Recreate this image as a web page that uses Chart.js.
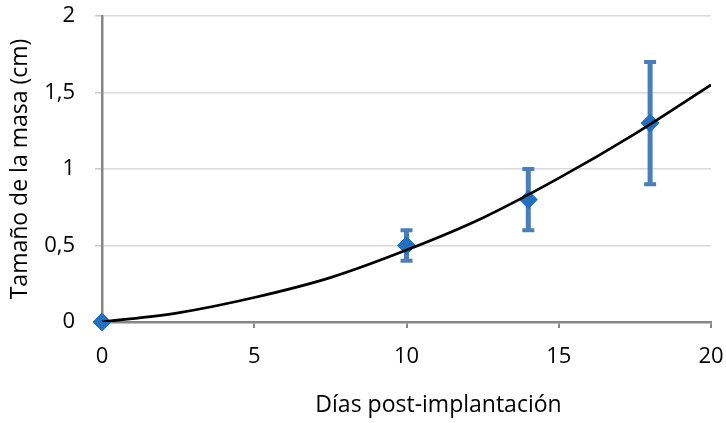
<!DOCTYPE html>
<html>
<head>
<meta charset="utf-8">
<script src="https://cdn.jsdelivr.net/npm/chart.js@4"></script>
<style>
  html, body { margin: 0; padding: 0; background: #fff; }
  #grafico { display: block; }
</style>
</head>
<body>
<canvas id="grafico" width="726" height="423"></canvas>
<script>
// datos medidos
const dias = [0, 10, 14, 18];
const tamano = [0, 0.5, 0.8, 1.3];
const errores = [0, 0.1, 0.2, 0.4];

// línea de tendencia
const tendX = [0, 2.5, 5, 7.5, 10, 12.5, 15, 17.5, 20];
const tendY = [0, 0.06, 0.16, 0.29, 0.47, 0.68, 0.94, 1.23, 1.55];

const ticksX = [0, 5, 10, 15, 20];
const ticksY = [0, 0.5, 1, 1.5, 2];

const fuente = "'Open Sans', 'Noto Sans', sans-serif";
const azul = '#2370c0';
const azulBarra = '#4a7ebb';

// barras de error debajo de los puntos
const barrasError = {
  id: 'barrasError',
  beforeDatasetsDraw(chart) {
    const ctx = chart.ctx;
    const sx = chart.scales.x, sy = chart.scales.y;
    ctx.save();
    ctx.strokeStyle = azulBarra;
    dias.forEach((d, i) => {
      if (!errores[i]) return;
      const x = sx.getPixelForValue(d);
      const y1 = sy.getPixelForValue(tamano[i] + errores[i]);
      const y2 = sy.getPixelForValue(tamano[i] - errores[i]);
      ctx.lineWidth = 5;
      ctx.beginPath();
      ctx.moveTo(x, y1);
      ctx.lineTo(x, y2);
      ctx.stroke();
      ctx.lineWidth = 4;
      ctx.beginPath();
      ctx.moveTo(x - 6, y1);
      ctx.lineTo(x + 6, y1);
      ctx.moveTo(x - 6, y2);
      ctx.lineTo(x + 6, y2);
      ctx.stroke();
    });
    ctx.restore();
  }
};

// título del eje x (desplazado a la derecha como en el original)
const tituloX = {
  id: 'tituloX',
  afterDraw(chart) {
    const ctx = chart.ctx;
    const a = chart.chartArea;
    ctx.save();
    ctx.font = "23px " + fuente;
    ctx.fillStyle = '#000';
    ctx.textAlign = 'center';
    ctx.textBaseline = 'middle';
    ctx.fillText('Días post-implantación', (a.left + a.right) / 2 + 32, 405);
    ctx.restore();
  }
};

new Chart(document.getElementById('grafico'), {
  type: 'scatter',
  data: {
    datasets: [
      {
        label: 'Tendencia',
        data: tendX.map((x, i) => ({ x: x, y: tendY[i] })),
        showLine: true,
        borderColor: '#000',
        borderWidth: 2.7,
        pointRadius: 0,
        cubicInterpolationMode: 'monotone',
        order: 0
      },
      {
        label: 'Tamaño',
        data: dias.map((x, i) => ({ x: x, y: tamano[i] })),
        pointStyle: 'rectRot',
        pointRadius: 9,
        backgroundColor: azul,
        borderColor: azul,
        borderWidth: 1,
        clip: false,
        order: 1
      }
    ]
  },
  options: {
    responsive: false,
    animation: false,
    layout: { padding: { left: 0, right: 15, top: 16, bottom: 0 } },
    plugins: {
      legend: { display: false },
      tooltip: { enabled: false }
    },
    scales: {
      x: {
        type: 'linear',
        min: 0,
        max: 20,
        afterBuildTicks: s => { s.ticks = ticksX.map(v => ({ value: v })); },
        afterFit: s => { s.height = 101; s.paddingLeft = 0; s.paddingRight = 0; },
        border: { color: '#868686', width: 2.5 },
        grid: { drawOnChartArea: false, tickLength: 6, color: '#868686', lineWidth: 2 },
        ticks: { font: { family: fuente, size: 22 }, color: '#000', padding: 16, maxRotation: 0 }
      },
      y: {
        min: 0,
        max: 2,
        afterBuildTicks: s => { s.ticks = ticksY.map(v => ({ value: v })); },
        afterFit: s => { s.width = 102; s.paddingTop = 0; s.paddingBottom = 0; },
        border: { color: '#868686', width: 2.5 },
        grid: { color: '#d9d9d9', lineWidth: 1.5, tickLength: 7, tickColor: '#c8c8c8' },
        ticks: {
          font: { family: fuente, size: 22 },
          color: '#000',
          padding: 20,
          callback: v => String(v).replace('.', ',')
        },
        title: {
          display: true,
          text: 'Tamaño de la masa (cm)',
          font: { family: fuente, size: 23 },
          color: '#000',
          padding: { top: 7, bottom: 0 }
        }
      }
    }
  },
  plugins: [barrasError, tituloX]
});
</script>
</body>
</html>
